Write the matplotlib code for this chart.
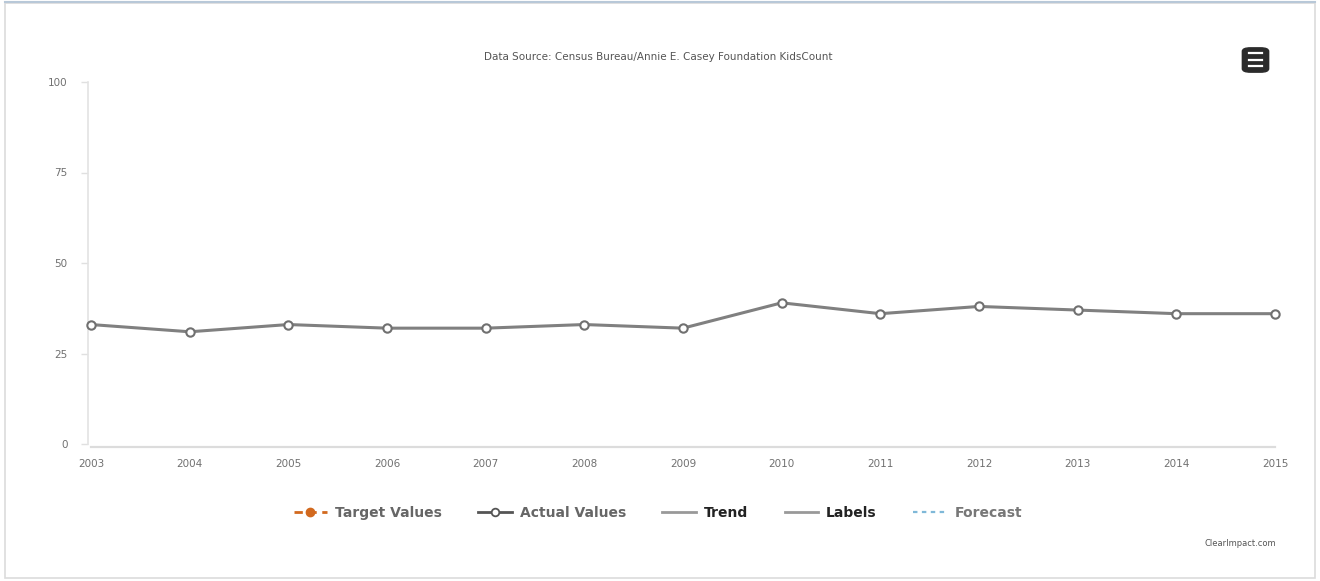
import matplotlib
matplotlib.use("Agg")
import matplotlib.pyplot as plt
from matplotlib.lines import Line2D
from matplotlib.patches import FancyBboxPatch, Rectangle

years = [2003, 2004, 2005, 2006, 2007, 2008, 2009, 2010, 2011, 2012, 2013, 2014, 2015]
actual_values = [33, 31, 33, 32, 32, 33, 32, 39, 36, 38, 37, 36, 36]
y_ticks = [0, 25, 50, 75, 100]
title = "Data Source: Census Bureau/Annie E. Casey Foundation KidsCount"
legend_labels = ["Target Values", "Actual Values", "Trend", "Labels", "Forecast"]

W, H = 1320, 581
fig = plt.figure(figsize=(W / 100, H / 100), dpi=100)
fig.patch.set_facecolor("white")

# outer frame
fig.patches.append(Rectangle((5 / W, 3 / H), 1310 / W, 575 / H, transform=fig.transFigure,
                             fill=False, edgecolor="#dcdcdc", linewidth=1.2))
fig.add_artist(Line2D([5 / W, 1315 / W], [1 - 2 / H, 1 - 2 / H], transform=fig.transFigure,
                      color="#b8c8d8", linewidth=1.5))

ax = fig.add_axes([91 / W, 1 - 444 / H, (1275 - 91) / W, (444 - 82) / H])
ax.set_xlim(years[0], years[-1])
ax.set_ylim(0, 100)
ax.plot(years, actual_values, color="#808080", linewidth=2.2, marker="o",
        markersize=6, markerfacecolor="white", markeredgecolor="#707070",
        markeredgewidth=1.5, zorder=3, clip_on=False)

for s in ["top", "right"]:
    ax.spines[s].set_visible(False)
ax.spines["left"].set_color("#e3e3e3")
ax.spines["bottom"].set_color("#dcdcdc")
ax.spines["left"].set_linewidth(1.2)
ax.spines["bottom"].set_linewidth(1.6)
ax.spines["left"].set_position(("outward", 2))
ax.spines["bottom"].set_position(("outward", 2))

ax.set_yticks(y_ticks)
ax.set_xticks(years)
ax.tick_params(axis="y", colors="#e0e0e0", length=5, width=1, labelcolor="#707070",
               labelsize=7.5, pad=10)
ax.tick_params(axis="x", length=0, labelcolor="#707070", labelsize=7.5, pad=9)
for lbl in ax.get_xticklabels() + ax.get_yticklabels():
    lbl.set_fontfamily("DejaVu Sans")

fig.text(658 / W, 1 - 57 / H, title, ha="center", va="center", fontsize=7.5,
         color="#555555")

# menu icon
fig.patches.append(FancyBboxPatch((1245 / W, 1 - 71 / H), 21 / W, 22 / H,
                                  boxstyle="round,pad=0.002,rounding_size=0.006",
                                  transform=fig.transFigure, facecolor="#2b2b2b",
                                  edgecolor="#2b2b2b"))
for yy in [53, 60, 66]:
    fig.add_artist(Line2D([1249 / W, 1262 / W], [1 - yy / H, 1 - yy / H],
                          transform=fig.transFigure, color="white", linewidth=1.6))

handles = [
    Line2D([0], [0], color="#d2691e", linestyle=(0, (3, 2)), linewidth=2,
           marker="o", markersize=6, markerfacecolor="#d2691e", markeredgecolor="#d2691e"),
    Line2D([0], [0], color="#555555", linewidth=2, marker="o", markersize=5.5,
           markerfacecolor="white", markeredgecolor="#555555", markeredgewidth=1.3),
    Line2D([0], [0], color="#999999", linewidth=2),
    Line2D([0], [0], color="#999999", linewidth=2),
    Line2D([0], [0], color="#7fb8d8", linewidth=1.6, linestyle=(0, (2, 2))),
]
leg = fig.legend(handles, legend_labels, loc="center", bbox_to_anchor=(658 / W, 1 - 513 / H),
                 ncol=5, frameon=False, fontsize=10, handlelength=2.4,
                 columnspacing=2.6, handletextpad=0.6)
text_colors = ["#666666", "#666666", "#222222", "#222222", "#777777"]
for t, c in zip(leg.get_texts(), text_colors):
    t.set_color(c)
    t.set_fontweight("bold")

fig.text(1240 / W, 1 - 543 / H, "ClearImpact.com", ha="center", va="center",
         fontsize=6, color="#555555")

fig.savefig("out.png", dpi=100, facecolor="white")
